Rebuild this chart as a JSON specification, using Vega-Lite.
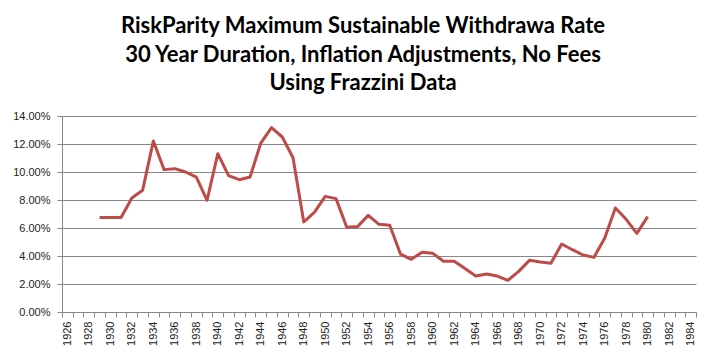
{
  "$schema": "https://vega.github.io/schema/vega-lite/v6.json",
  "autosize": {"type": "none"},
  "width": 634,
  "height": 196,
  "padding": {"left": 62, "top": 116, "right": 17, "bottom": 47},
  "background": "white",
  "title": {
    "text": ["RiskParity Maximum Sustainable Withdrawa Rate", "30 Year Duration, Inflation Adjustments, No Fees", "Using Frazzini Data"],
    "font": "Lato",
    "fontWeight": "bold",
    "fontSize": 22,
    "lineHeight": 28.5,
    "color": "#000000",
    "anchor": "middle",
    "baseline": "alphabetic",
    "offset": -2,
    "dx": -16
  },
  "config": {
    "view": {"stroke": null},
    "axis": {"labelFont": "Liberation Sans", "labelFontSize": 11, "labelColor": "#222222"}
  },
  "data": {
    "values": [
      {"year": 1929, "rate": 0.0675},
      {"year": 1930, "rate": 0.0675},
      {"year": 1931, "rate": 0.0675},
      {"year": 1932, "rate": 0.0814},
      {"year": 1933, "rate": 0.0869},
      {"year": 1934, "rate": 0.1221},
      {"year": 1935, "rate": 0.1017},
      {"year": 1936, "rate": 0.1024},
      {"year": 1937, "rate": 0.1000},
      {"year": 1938, "rate": 0.0964},
      {"year": 1939, "rate": 0.0798},
      {"year": 1940, "rate": 0.1131},
      {"year": 1941, "rate": 0.0974},
      {"year": 1942, "rate": 0.0945},
      {"year": 1943, "rate": 0.0964},
      {"year": 1944, "rate": 0.1207},
      {"year": 1945, "rate": 0.1317},
      {"year": 1946, "rate": 0.1250},
      {"year": 1947, "rate": 0.1102},
      {"year": 1948, "rate": 0.0643},
      {"year": 1949, "rate": 0.0714},
      {"year": 1950, "rate": 0.0826},
      {"year": 1951, "rate": 0.0810},
      {"year": 1952, "rate": 0.0605},
      {"year": 1953, "rate": 0.0610},
      {"year": 1954, "rate": 0.0690},
      {"year": 1955, "rate": 0.0626},
      {"year": 1956, "rate": 0.0619},
      {"year": 1957, "rate": 0.0414},
      {"year": 1958, "rate": 0.0376},
      {"year": 1959, "rate": 0.0426},
      {"year": 1960, "rate": 0.0419},
      {"year": 1961, "rate": 0.0362},
      {"year": 1962, "rate": 0.0362},
      {"year": 1963, "rate": 0.0310},
      {"year": 1964, "rate": 0.0257},
      {"year": 1965, "rate": 0.0271},
      {"year": 1966, "rate": 0.0257},
      {"year": 1967, "rate": 0.0226},
      {"year": 1968, "rate": 0.0290},
      {"year": 1969, "rate": 0.0369},
      {"year": 1970, "rate": 0.0357},
      {"year": 1971, "rate": 0.0348},
      {"year": 1972, "rate": 0.0486},
      {"year": 1973, "rate": 0.0445},
      {"year": 1974, "rate": 0.0407},
      {"year": 1975, "rate": 0.0390},
      {"year": 1976, "rate": 0.0526},
      {"year": 1977, "rate": 0.0743},
      {"year": 1978, "rate": 0.0662},
      {"year": 1979, "rate": 0.0562},
      {"year": 1980, "rate": 0.0681}
    ]
  },
  "mark": {"type": "line", "color": "#BE4B48", "strokeWidth": 3, "strokeJoin": "round"},
  "encoding": {
    "x": {
      "field": "year",
      "type": "ordinal",
      "bandPosition": 0.5,
      "scale": {
        "type": "band",
        "paddingInner": 0,
        "paddingOuter": 0,
        "domain": [1926,1927,1928,1929,1930,1931,1932,1933,1934,1935,1936,1937,1938,1939,1940,1941,1942,1943,1944,1945,1946,1947,1948,1949,1950,1951,1952,1953,1954,1955,1956,1957,1958,1959,1960,1961,1962,1963,1964,1965,1966,1967,1968,1969,1970,1971,1972,1973,1974,1975,1976,1977,1978,1979,1980,1981,1982,1983,1984]
      },
      "axis": {
        "title": null,
        "labelAngle": -90,
        "labelExpr": "datum.value % 2 == 0 ? '' + datum.value : ''",
        "tickBand": "extent",
        "tickSize": 5,
        "tickColor": "#868686",
        "domainColor": "#868686",
        "grid": false,
        "labelPadding": 4,
        "labelOverlap": false
      }
    },
    "y": {
      "field": "rate",
      "type": "quantitative",
      "scale": {"domain": [0, 0.14], "nice": false, "zero": true},
      "axis": {
        "title": null,
        "values": [0, 0.02, 0.04, 0.06, 0.08, 0.1, 0.12, 0.14],
        "format": ".2%",
        "grid": true,
        "gridColor": "#868686",
        "gridOpacity": 1,
        "tickColor": "#868686",
        "tickSize": 5,
        "domainColor": "#868686",
        "labelPadding": 7
      }
    }
  }
}
